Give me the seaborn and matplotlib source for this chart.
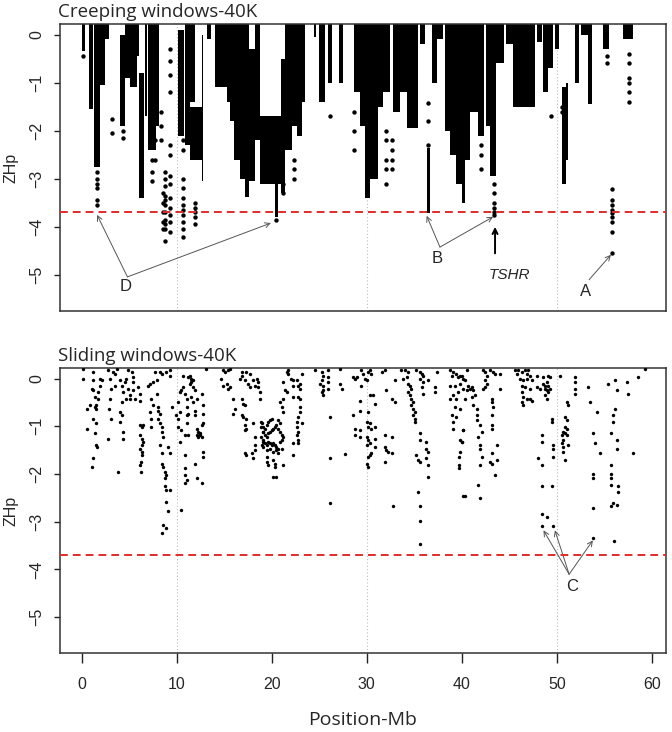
import matplotlib

matplotlib.use("Agg")

import matplotlib.pyplot as plt
import numpy as np
import seaborn as sns

# creeping windows: dense runs of windows, one column per run (Mb span, ZHp top/bottom)
creep_start = [0.0, 0.8, 1.3, 1.9, 2.4, 4.0, 4.5, 5.1, 5.8, 6.0, 6.6, 7.0, 7.8,
               10.1, 10.9, 11.4, 11.4, 12.6, 13.2, 14.0, 15.3, 15.6, 16.0, 16.7,
               17.2, 17.6, 18.2, 18.8, 20.3, 21.0, 21.4, 22.1, 22.6, 23.2, 24.4,
               25.0, 25.9, 27.1, 28.6, 29.3, 29.8, 30.3, 31.2, 31.7, 32.8, 33.5,
               34.2, 35.6, 36.3, 36.9, 37.4, 38.2, 38.8, 39.4, 40.0, 40.3, 40.9,
               41.7, 42.6, 43.0, 43.6, 44.7, 45.4, 46.0, 47.9, 48.6, 49.1, 49.8,
               50.5, 51.0, 51.9, 52.6, 53.3, 54.9, 57.0]
creep_end = [0.3, 1.2, 1.9, 2.4, 2.9, 4.5, 5.1, 5.8, 6.0, 6.5, 6.9, 7.8, 8.1,
             10.8, 11.4, 11.9, 12.6, 12.8, 13.6, 15.3, 15.6, 16.0, 16.7, 17.2,
             17.6, 18.2, 18.8, 21.2, 20.6, 21.4, 22.1, 22.6, 23.2, 23.5, 24.7,
             25.6, 26.3, 27.5, 29.3, 29.8, 30.3, 31.2, 31.7, 32.4, 33.5, 34.2,
             35.4, 36.1, 36.6, 37.4, 38.0, 38.8, 39.4, 40.0, 40.3, 40.9, 41.7,
             42.3, 43.0, 43.6, 44.4, 45.4, 46.0, 47.7, 48.4, 49.1, 49.6, 50.2,
             51.0, 51.2, 52.3, 53.3, 53.7, 55.5, 58.0]
creep_top = [0.3, 0.3, 0.3, 0.3, 0.3, 0.0, 0.3, 0.3, 0.3, -0.8, 0.3, 0.3, 0.3,
             0.1, 0.3, 0.3, -1.5, 0.0, 0.3, 0.3, 0.3, 0.3, 0.3, 0.3,
             0.3, -0.3, 0.3, -1.7, -3.0, -0.5, 0.3, 0.3, 0.3, 0.3, 0.3,
             0.3, 0.3, 0.3, 0.3, 0.3, 0.3, 0.3, 0.3, 0.3, 0.3, 0.3,
             0.3, 0.3, -2.35, 0.3, 0.3, 0.3, 0.3, 0.3, 0.3, 0.3, 0.3,
             0.3, 0.3, 0.3, 0.3, 0.3, 0.3, 0.3, 0.3, 0.3, 0.3, 0.3,
             -1.1, -1.0, 0.3, 0.3, 0.3, 0.3, 0.3]
creep_bottom = [-0.35, -1.55, -2.75, -1.05, -0.1, -1.9, -0.9, -1.1, -0.45, -3.4, -1.7, -2.4, -1.9,
                -2.1, -2.3, -1.4, -2.6, -3.05, -0.1, -1.1, -1.4, -1.8, -2.6, -3.0,
                -3.37, -3.05, -2.2, -3.1, -3.8, -3.3, -2.4, -1.9, -2.1, -1.4, -0.06,
                -1.4, -1.0, -1.0, -1.2, -1.9, -3.4, -3.0, -1.5, -1.2, -1.6, -1.2,
                -1.95, -0.2, -3.72, -1.0, -0.1, -2.0, -2.5, -3.1, -3.5, -2.6, -1.6,
                -2.1, -1.9, -2.95, -0.6, -0.2, -1.5, -1.5, -0.15, -1.2, -0.7, -0.3,
                -3.1, -2.6, -1.0, 0.0, -1.45, -0.3, -0.1]

# creeping windows: isolated windows
creep_dot_mb = [0.1,
                1.6, 1.6, 1.6, 1.6, 1.6, 1.6,
                3.2, 3.2, 4.3, 4.3,
                7.4, 7.4, 7.4, 7.7, 7.7, 8.3, 8.3, 8.3,
                8.5, 8.5, 8.5, 8.5, 8.5,
                8.8, 8.8, 8.8, 8.8, 8.8, 8.8, 8.8, 8.8, 8.8, 8.8, 8.8,
                9.3, 9.3, 9.3, 9.3, 9.3, 9.3, 9.3, 9.3, 9.3, 9.3, 9.3, 9.3, 9.3,
                10.6, 10.6, 10.6, 10.6, 10.6, 10.6, 10.6, 10.6, 10.6, 10.6, 10.6,
                11.9, 11.9, 11.9, 11.9, 11.9,
                20.4, 21.2, 21.2, 22.3, 22.3, 22.3, 26.1,
                28.7, 28.7, 28.7,
                32.0, 32.0, 32.0, 32.0, 32.0, 32.7, 32.7, 32.7, 32.7,
                36.4, 36.4, 36.4, 42.0, 42.0, 42.0,
                43.4, 43.4, 43.4, 43.4, 43.4, 43.4,
                49.4, 50.6, 50.6,
                55.8, 55.8, 55.8, 55.8, 55.8, 55.8, 55.8, 55.8, 55.8,
                55.3, 55.3,
                57.6, 57.6, 57.6, 57.6, 57.6, 57.6]
creep_dot_zhp = [-0.45,
                 -2.85, -3.0, -3.1, -3.2, -3.45, -3.55,
                 -1.75, -2.05, -2.0, -2.15,
                 -2.6, -2.85, -3.05, -2.2, -2.6, -1.6, -1.9, -2.2,
                 -3.3, -3.5, -3.7, -3.9, -4.05,
                 -2.85, -3.0, -3.15, -3.35, -3.45, -3.55, -3.7, -3.85, -3.95, -4.05, -4.3,
                 -0.3, -0.55, -0.85, -1.2, -2.3, -2.5, -2.95, -3.1, -3.4, -3.6, -3.75, -3.9, -4.1,
                 -2.2, -2.4, -3.0, -3.2, -3.4, -3.55, -3.65, -3.75, -3.9, -4.05, -4.2,
                 -3.5, -3.6, -3.7, -3.8, -3.95,
                 -3.85, -3.1, -3.3, -2.6, -2.8, -3.0, -1.69,
                 -1.6, -2.0, -2.4,
                 -2.0, -2.2, -2.6, -2.8, -3.1, -2.2, -2.4, -2.6, -2.8,
                 -1.42, -1.8, -2.29, -2.3, -2.5, -2.8,
                 -3.1, -3.3, -3.5, -3.6, -3.7, -3.76,
                 -1.7, -1.5, -1.6,
                 -3.21, -3.45, -3.55, -3.65, -3.72, -3.79, -3.9, -4.1, -4.55,
                 -0.45, -0.6,
                 -0.4, -0.6, -0.9, -1.0, -1.2, -1.4]

# sliding windows: one point per window
slide_mb = [
    0.14, 0.14, 0.49, 0.49, 1.02, 1.19, 1.19, 1.19, 1.02, 1.19, 1.37, 1.54, 1.37, 1.54, 1.72,
    1.72, 1.89, 1.89, 2.07, 1.54, 1.37, 1.54, 1.61, 0.84, 1.19,
    2.77, 2.95, 3.12, 2.95, 2.88, 3.12, 2.77, 3.3, 3.47, 3.82, 3.65, 3.47,
    4.0, 4.18, 4.35, 4.53, 4.7, 4.88, 5.05, 4.88, 5.23, 5.4, 5.4, 4.18, 4.0, 4.18, 4.0, 4.35,
    4.35, 4.7, 5.05, 5.4, 5.58, 5.93, 6.1, 6.1,
    6.1, 6.28, 6.46, 6.1, 6.28, 6.46, 6.28, 6.1, 6.28, 6.28, 6.18, 6.1, 6.18,
    6.98, 7.16, 7.51, 7.68, 7.86, 7.33, 7.16, 7.33, 7.33, 7.51, 7.86, 8.04, 8.04, 8.21, 8.04,
    8.21, 8.39, 8.39, 8.56, 8.21, 8.39, 8.39, 8.56, 8.74, 8.91, 8.74, 8.74, 8.91, 9.26, 8.91,
    9.09, 8.56, 8.91, 8.39, 8.21, 8.39, 8.91, 9.26, 9.26, 9.44, 9.09, 9.26,
    10.14, 10.32, 10.32, 10.14, 9.96, 10.14, 10.49, 10.32, 10.49, 10.67, 10.84, 11.02, 11.02,
    11.19, 11.02, 11.02, 10.84, 11.19, 11.37, 11.54, 11.72, 11.54, 11.72, 11.89, 11.89, 11.37,
    11.72, 11.89, 12.07, 10.67, 11.19, 11.54, 10.84, 10.84, 10.84, 11.02, 10.84, 10.49, 11.89,
    12.07,
    12.07, 12.25, 12.42, 12.6, 12.6, 12.77, 12.42, 12.25, 12.07, 12.77, 12.77, 12.6, 12.77,
    12.77, 12.7, 13.12,
    14.88, 15.05, 15.4, 15.58, 14.7, 14.88, 15.23, 15.4, 15.58, 15.93, 16.1, 15.93, 16.81,
    16.98, 17.16, 16.81, 16.98, 17.33, 17.16, 17.33, 17.16, 17.16, 17.33, 17.86, 18.04, 18.04,
    18.21, 18.21, 18.21, 18.39, 18.56, 18.56, 18.74, 18.74, 18.21, 18.04, 17.68, 17.33, 16.81,
    16.81, 16.63, 17.16, 17.51, 17.68, 18.91, 18.91, 19.09, 18.91, 19.09, 19.09,
    18.92, 19.09, 19.27, 19.44, 19.62, 19.79, 19.97, 19.09, 19.27, 19.44, 19.62, 19.79, 19.97,
    20.14, 20.32, 20.49, 20.67, 20.85, 21.02, 19.09, 19.27, 19.44, 19.62, 19.79, 19.97, 20.14,
    20.32, 20.49, 20.67, 20.85, 21.02, 18.92, 19.44, 19.79, 20.14, 20.49, 19.44, 19.44, 20.14,
    20.32, 19.62, 20.32, 20.14, 20.49, 21.2, 20.67, 21.02, 21.2, 20.85, 20.67, 21.2, 21.02,
    20.85, 21.2, 21.37, 21.55, 21.2, 21.55, 21.72, 21.72, 22.07, 22.25, 22.25, 22.6, 22.77,
    22.95, 22.95, 22.25, 22.77, 22.95, 22.95, 22.95, 22.77, 22.6, 22.6, 22.77, 22.6, 22.77,
    22.77, 22.25, 23.13, 22.25, 23.13,
    24.53, 25.23, 25.41, 25.23, 25.06, 25.41, 25.41, 25.23, 25.41, 25.93, 25.93, 25.93, 25.93,
    26.11, 26.11, 26.11, 27.16, 27.16, 27.34, 27.69,
    28.56, 28.74, 28.92, 29.44, 29.62, 29.79, 29.97, 30.14, 30.32, 30.49, 29.44, 30.32, 30.67,
    29.27, 30.85, 29.27, 28.56, 30.14, 29.97, 30.32, 30.14, 30.49, 30.85, 29.27, 28.74, 29.27,
    28.74, 29.97, 30.14, 30.32, 29.97, 30.85, 30.85, 30.49, 30.14, 29.97, 30.14, 30.32, 31.9,
    31.55,
    32.95, 32.07, 32.6, 32.95, 31.9, 32.6, 31.9, 32.07, 32.25, 32.6, 31.9, 32.77,
    33.65, 34.0, 34.35, 34.18, 33.83, 34.35, 34.53, 34.7, 34.35, 34.53, 34.7, 34.88, 34.7,
    34.88, 35.05, 34.88, 35.05, 35.05, 35.23, 35.58, 35.76, 35.93, 35.58, 35.93, 35.76, 35.93,
    36.46, 35.58, 35.58, 35.23, 35.4, 35.58, 36.28, 36.28, 36.46, 36.28, 36.46, 36.46, 35.4,
    35.58, 35.58, 35.58, 37.34, 37.16, 37.16,
    38.74, 39.09, 38.92, 39.44, 39.62, 39.79, 38.74, 39.27, 39.79, 39.62, 39.09, 38.74, 39.44,
    39.27, 39.79, 38.92, 39.44, 39.09, 39.09, 40.14, 39.79, 39.97, 39.79, 39.72, 39.72, 39.72,
    40.14,
    39.98, 40.15, 40.33, 40.5, 40.15, 40.33, 40.5, 40.68, 40.85, 41.03, 41.2, 41.03, 41.38,
    41.2, 41.55, 41.55, 41.55, 41.73, 41.9, 42.08, 41.9, 41.9, 42.08, 41.9, 41.73, 41.9,
    39.98, 40.15, 40.33,
    42.26, 42.43, 42.61, 42.43, 42.61, 42.43, 42.26, 42.96, 43.31, 43.48, 44.01, 44.01, 43.13,
    43.13, 43.31, 43.13, 43.13, 43.13, 43.66, 43.13, 42.96, 43.13, 43.66, 43.48,
    45.59, 45.76, 45.94, 46.29, 46.64, 46.82, 46.99, 47.17, 46.12, 46.47, 46.82, 47.34, 46.29,
    46.64, 47.17, 46.29, 46.47, 46.82, 47.17, 46.29, 46.47, 47.87, 47.87, 48.22, 47.34,
    48.57, 48.75, 48.92, 49.1, 48.75, 48.92, 49.1, 49.27, 48.75, 48.92, 48.57, 49.27, 49.1,
    48.4, 48.4, 48.05, 48.4, 48.4, 49.45, 49.45, 49.62, 49.62, 49.45, 48.4, 48.92, 48.4,
    49.62, 49.62,
    50.33, 51.03, 51.2, 50.85, 51.03, 50.85, 51.03, 50.68, 50.85, 51.03, 50.5, 50.68, 50.5,
    50.68, 51.2, 50.68, 50.85, 51.9, 51.9, 51.9, 51.9,
    53.31, 53.48, 54.19, 53.84, 54.01, 54.54, 53.84, 53.84, 53.84, 53.84,
    55.41, 56.12, 56.29, 56.12, 55.94, 55.94, 55.76, 56.29, 56.29, 55.76, 55.76, 55.76, 55.76,
    56.47, 56.47, 55.94, 55.76, 56.29, 56.01,
    57.34, 57.52, 58.05, 58.57, 59.27,
]
slide_zhp = [
    0.2, -0.01, -0.63, -1.05, -1.85, -1.67, 0.13, -0.04, -0.22, -0.25, -0.39, -0.56, -0.6, -0.63, -0.42,
    -0.28, -0.15, -0.01, -0.04, -0.94, -1.15, -1.4, -1.43, -0.56, -0.84,
    0.17, -0.01, -0.22, -0.42, -0.63, -0.84, -1.26, 0.13, 0.1, -1.95, 0.2, -0.15,
    -0.04, -0.15, -0.28, -0.08, -0.01, -0.22, -0.35, 0.17, 0.13, 0.03, -0.08, -0.49, -0.7, -0.77, -0.91, -1.12,
    -1.26, -0.42, -0.42, -0.25, -0.42, -0.18, -0.32, -0.46,
    -0.98, -1.01, -0.98, -1.19, -1.26, -1.33, -1.4, -1.47, -1.53, -1.6, -1.74, -1.81, -1.95,
    -0.15, -0.11, -0.08, 0.13, -0.04, -0.42, -0.7, -0.84, -1.01, -0.56, -0.32, -0.6, -0.67, -0.74, -0.84,
    -0.94, -1.01, -1.12, -1.22, -1.4, -1.57, -1.78, -1.85, -1.95, -2.02, -2.09, -2.26, -2.33, -2.33, -2.58,
    -2.78, -3.06, -3.13, -3.24, 0.13, 0.1, 0.13, 0.17, 0.06, -0.6, -1.43, -1.57,
    -0.49, -0.28, -0.7, -0.84, -0.77, -1.01, -1.08, -1.33, -0.25, -0.18, -0.32, -0.42, -0.6,
    -0.74, -0.77, -0.94, -1.19, -1.19, -0.11, -0.01, -0.18, -0.39, -0.49, -0.67, -0.77, 0.06,
    -0.04, -0.25, -0.42, 0.06, 0.03, -0.08, -1.6, -1.88, -2.02, -2.13, -2.19, -2.75, -1.78,
    -2.09,
    -1.05, -1.12, -1.19, -1.22, -0.98, -0.94, -1.15, -1.22, -1.19, -1.53, -1.64, -0.32, -0.56,
    -0.74, -2.19, 0.2,
    0.17, 0.13, 0.17, 0.2, -0.01, -0.15, -0.11, -0.22, -0.18, -0.42, -0.63, -0.74, -0.42,
    -0.53, -0.56, -0.77, -0.81, -0.84, -0.98, -1.05, -1.08, -1.57, -1.6, -1.57, -1.67, -0.94,
    -1.22, -1.4, -1.5, -0.01, -0.08, -0.18, -0.28, -0.42, -0.15, -0.04, 0.1, 0.13, 0.13,
    0.06, -0.01, -0.04, -0.11, -0.18, -0.91, -1.01, -1.12, -1.22, -1.33, -1.43,
    -0.94, -1.01, -1.05, -0.98, -0.91, -0.875, -0.84, -1.12, -1.19, -1.22, -1.15, -1.12, -1.08,
    -1.05, -1.01, -0.98, -1.05, -1.12, -1.19, -1.29, -1.36, -1.4, -1.33, -1.36, -1.4, -1.36,
    -1.4, -1.43, -1.47, -1.33, -1.29, -1.4, -1.5, -1.47, -1.53, -1.5, -1.64, -1.74, -1.71,
    -1.78, -1.81, -1.85, -2.06, -2.06, -1.81, -1.57, -1.47, -1.22, -0.94, -0.875, -0.7, -0.6,
    -0.49, -0.42, -0.25, -0.28, -0.08, 0.13, 0.17, 0.1, -0.01, -0.04, -0.15, -0.04, -0.15,
    -0.11, -0.22, -0.39, -0.39, -0.42, -0.6, -0.7, -0.81, -0.91, -1.01, -1.12, -1.19, -1.29,
    -1.36, -1.36, -0.94, -1.6, 0.1,
    0.17, 0.13, 0.06, -0.04, -0.11, -0.15, -0.25, -0.28, -0.35, 0.17, 0.03, -0.08, -0.22,
    -0.81, -1.67, -2.61, 0.2, -0.11, -0.22, -1.59,
    0.03, -0.01, 0.03, 0.17, 0.1, -0.01, -0.04, 0.13, 0.17, 0.1, -0.15, -0.35, -0.35,
    -0.46, -0.53, -0.67, -0.77, -0.7, -0.91, -0.94, -1.01, -1.05, -1.01, -1.08, -1.05, -1.22,
    -1.19, -1.22, -1.29, -1.36, -1.4, -1.26, -1.43, -1.57, -1.64, -1.78, -1.85, -1.6, 0.17,
    0.13,
    -0.04, -0.25, -0.42, -0.49, -1.19, -1.22, -1.43, -1.5, -1.53, -1.57, -1.74, -2.68,
    0.17, 0.17, 0.13, 0.03, -0.01, -0.11, -0.15, -0.22, -0.28, -0.35, -0.42, -0.49, -0.56,
    -0.63, -0.7, -0.77, -0.84, -0.91, 0.17, 0.13, 0.1, 0.06, -0.01, -0.08, -0.18, -0.32,
    -0.04, -1.15, -1.29, -1.6, -1.71, -1.74, -1.33, -1.47, -1.53, -1.67, -1.81, -2.06, -2.37,
    -2.68, -2.99, -3.46, 0.13, -0.18, -0.28,
    0.17, 0.13, 0.06, 0.1, 0.03, 0.06, -0.15, -0.15, -0.11, -0.28, -0.35, -0.42, -0.42,
    -0.6, -0.63, -0.77, -0.81, -0.91, -1.05, -1.08, -1.29, -1.33, -1.53, -1.64, -1.81, -1.88,
    -2.47,
    0.06, -0.01, -0.04, 0.17, -0.22, -0.42, -0.25, -0.15, -0.22, -0.18, -0.25, -0.39, -0.35,
    -0.56, -0.63, -0.77, -0.875, -1.22, -0.98, -1.12, -1.4, -1.47, -1.64, -1.81, -2.23, -2.51,
    -1.33, -1.08, -2.47,
    0.17, 0.13, 0.06, -0.04, -0.11, -0.18, -0.22, 0.17, 0.13, 0.1, 0.1, -0.22, -0.42,
    -0.49, -0.6, -0.77, -0.98, -1.05, -1.4, -1.57, -1.74, -1.78, -1.71, -2.02,
    0.17, 0.1, 0.17, 0.13, 0.17, 0.1, 0.17, 0.06, -0.01, -0.04, -0.01, -0.04, -0.15,
    -0.18, -0.22, -0.28, -0.39, -0.42, -0.42, -0.49, -0.56, 0.06, -0.18, -0.22, -0.46,
    -0.11, -0.15, -0.08, -0.15, -0.22, -0.25, -0.28, -0.22, -0.35, -0.42, 0.03, 0.03, 0.06,
    -1.19, -1.33, -1.67, -1.81, -2.26, -0.84, -0.91, -1.47, -1.4, -2.26, -2.83, -2.89, -3.08,
    -3.08, -1.64,
    0.06, -0.49, -0.56, -0.81, -0.875, -1.01, -1.05, -1.12, -1.15, -1.19, -1.19, -1.29, -1.36,
    -1.43, -1.4, -1.53, -1.71, 0.03, -0.08, -0.22, -0.32,
    -0.18, -0.49, -0.7, -1.15, -1.36, -1.57, -1.99, -2.09, -2.72, -3.35,
    -0.11, -0.04, -0.25, -0.63, -0.77, -0.91, -1.15, -1.29, -1.47, -1.81, -1.99, -2.09, -2.23,
    -2.26, -2.37, -2.61, -2.68, -2.65, -3.4,
    -0.08, -0.32, -1.57, 0.03, 0.2,
]

threshold = -3.7
grid_mb = [10, 30, 50]
x_ticks = [0, 10, 20, 30, 40, 50, 60]
y_ticks = [0, -1, -2, -3, -4, -5]

sns.set_style("white")
plt.rcParams["font.family"] = ["Liberation Sans", "DejaVu Sans"]
plt.rcParams["axes.unicode_minus"] = True

fig = plt.figure(figsize=(6.72, 7.32), dpi=100)
ax1 = fig.add_axes([0.0893, 0.5751, 0.9018, 0.3921])
ax2 = fig.add_axes([0.0893, 0.1079, 0.9018, 0.3893])

start = np.array(creep_start)
end = np.array(creep_end)
top = np.array(creep_top)
bottom = np.array(creep_bottom)
ax1.bar(start, top - bottom, width=end - start, bottom=bottom, align="edge",
        color="black", linewidth=0, zorder=2)
sns.scatterplot(x=creep_dot_mb, y=creep_dot_zhp, ax=ax1, color="black", s=10,
                linewidth=0, zorder=3)
sns.scatterplot(x=slide_mb, y=slide_zhp, ax=ax2, color="black", s=6,
                linewidth=0, zorder=3)

for ax, title in [(ax1, "Creeping windows-40K"), (ax2, "Sliding windows-40K")]:
    ax.set_xlim(-2.3, 61.5)
    ax.set_ylim(-5.75, 0.22)
    for g in grid_mb:
        ax.axvline(g, color="#bdbdbd", linestyle=(0, (1, 2)), linewidth=0.8, zorder=0)
    ax.axhline(threshold, color="#e02b2b", linestyle=(0, (4, 2.6)), linewidth=1.4, zorder=4)
    ax.set_yticks(y_ticks)
    ax.tick_params(axis="y", direction="out", length=4, width=1, color="#222222",
                   labelsize=11.5, pad=7, labelrotation=90, left=True)
    for lab in ax.get_yticklabels():
        lab.set_va("center")
    ax.set_ylabel("ZHp", fontsize=11.5, labelpad=8)
    for s in ax.spines.values():
        s.set_color("#333333")
        s.set_linewidth(1.1)
    ax.text(-0.003, 1.012, title, transform=ax.transAxes, ha="left", va="bottom",
            fontsize=13.5, family="Open Sans")

ax1.set_xticks([])
ax2.set_xticks(x_ticks)
ax2.tick_params(axis="x", direction="out", length=7, width=1, color="#222222",
                labelsize=11.5, pad=10, bottom=True)
ax2.set_xlabel("Position-Mb", fontsize=14, family="Open Sans", labelpad=14)

arrow = dict(arrowstyle="->", color="#555555", lw=0.7, shrinkA=0, shrinkB=0,
             mutation_scale=9)
ax1.annotate("", xy=(1.6, -3.75), xytext=(4.8, -5.04), arrowprops=arrow)
ax1.annotate("", xy=(19.9, -3.92), xytext=(4.8, -5.04), arrowprops=arrow)
ax1.text(4.6, -5.25, "D", ha="center", va="center", fontsize=12)
ax1.annotate("", xy=(36.3, -3.77), xytext=(37.7, -4.42), arrowprops=arrow)
ax1.annotate("", xy=(43.3, -3.79), xytext=(37.7, -4.42), arrowprops=arrow)
ax1.text(37.4, -4.65, "B", ha="center", va="center", fontsize=12)
ax1.annotate("", xy=(43.5, -4.0), xytext=(43.5, -4.55),
             arrowprops=dict(arrowstyle="->", color="black", lw=1.4, shrinkA=0,
                             shrinkB=0, mutation_scale=9))
ax1.text(45.05, -5.0, "TSHR", ha="center", va="center", fontsize=11, style="italic")
ax1.annotate("", xy=(55.7, -4.58), xytext=(53.4, -5.1), arrowprops=arrow)
ax1.text(53.05, -5.35, "A", ha="center", va="center", fontsize=12)

ax2.annotate("", xy=(48.6, -3.18), xytext=(51.3, -4.1), arrowprops=arrow)
ax2.annotate("", xy=(49.8, -3.18), xytext=(51.3, -4.1), arrowprops=arrow)
ax2.annotate("", xy=(53.8, -3.39), xytext=(51.3, -4.1), arrowprops=arrow)
ax2.text(51.6, -4.36, "C", ha="center", va="center", fontsize=12)

fig.savefig("out.png", dpi=100)
plt.close(fig)
